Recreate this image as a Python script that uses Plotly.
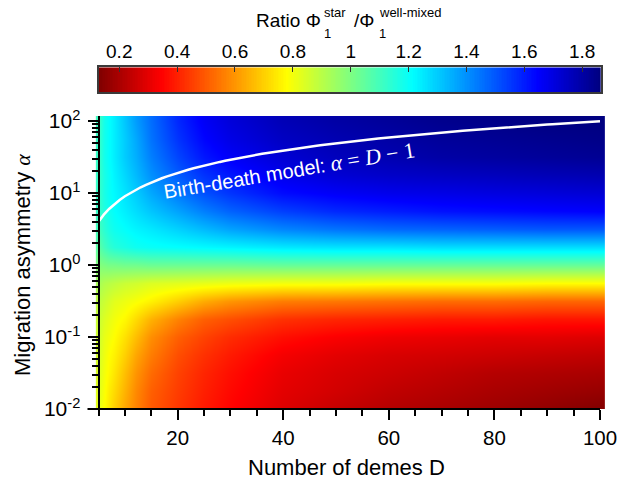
import numpy as np
import plotly.graph_objects as go

# ---- data ---------------------------------------------------------------
# number of demes D (grid columns)
demes = [5, 6, 7, 8, 10, 12, 15, 20, 25, 30, 40, 50, 60, 70, 80, 90, 100]
# migration asymmetry alpha, as powers of ten (grid rows, bottom to top)
alpha_exp = [-2.0, -1.75, -1.5, -1.25, -1.0, -0.75, -0.5, -0.25, 0.0,
             0.25, 0.5, 0.75, 1.0, 1.25, 1.5, 1.75, 2.0]
alpha = [10 ** e for e in alpha_exp]

# ratio Phi_1^star / Phi_1^well-mixed, one row per alpha value
ratio = [
    [0.82, 0.78, 0.74, 0.70, 0.63, 0.57, 0.50, 0.44, 0.39, 0.35, 0.29, 0.25, 0.22, 0.20, 0.18, 0.16, 0.135],
    [0.83, 0.79, 0.75, 0.72, 0.65, 0.58, 0.51, 0.45, 0.40, 0.36, 0.30, 0.27, 0.24, 0.22, 0.20, 0.185, 0.17],
    [0.84, 0.80, 0.77, 0.74, 0.67, 0.60, 0.53, 0.46, 0.41, 0.37, 0.31, 0.28, 0.26, 0.24, 0.22, 0.21, 0.20],
    [0.85, 0.81, 0.78, 0.76, 0.70, 0.63, 0.56, 0.48, 0.43, 0.39, 0.33, 0.30, 0.28, 0.27, 0.26, 0.25, 0.24],
    [0.86, 0.82, 0.80, 0.78, 0.73, 0.67, 0.59, 0.51, 0.46, 0.42, 0.37, 0.34, 0.32, 0.31, 0.30, 0.30, 0.29],
    [0.87, 0.84, 0.82, 0.80, 0.77, 0.72, 0.65, 0.57, 0.51, 0.48, 0.43, 0.41, 0.40, 0.39, 0.39, 0.38, 0.38],
    [0.89, 0.87, 0.85, 0.83, 0.81, 0.79, 0.76, 0.70, 0.64, 0.60, 0.56, 0.55, 0.54, 0.53, 0.53, 0.52, 0.52],
    [0.93, 0.91, 0.90, 0.89, 0.87, 0.86, 0.84, 0.83, 0.82, 0.81, 0.80, 0.80, 0.79, 0.79, 0.79, 0.78, 0.78],
    [0.99, 1.00, 1.01, 1.01, 1.02, 1.02, 1.03, 1.03, 1.03, 1.03, 1.04, 1.04, 1.04, 1.04, 1.04, 1.04, 1.04],
    [1.06, 1.10, 1.13, 1.15, 1.17, 1.19, 1.20, 1.21, 1.22, 1.23, 1.25, 1.26, 1.26, 1.27, 1.27, 1.27, 1.27],
    [1.10, 1.14, 1.17, 1.19, 1.21, 1.23, 1.25, 1.29, 1.33, 1.37, 1.42, 1.45, 1.47, 1.48, 1.49, 1.50, 1.50],
    [1.12, 1.16, 1.19, 1.21, 1.24, 1.27, 1.31, 1.37, 1.43, 1.48, 1.54, 1.58, 1.60, 1.62, 1.63, 1.64, 1.65],
    [1.12, 1.17, 1.20, 1.22, 1.26, 1.30, 1.36, 1.44, 1.51, 1.56, 1.63, 1.66, 1.68, 1.69, 1.70, 1.71, 1.72],
    [1.12, 1.17, 1.20, 1.23, 1.28, 1.33, 1.40, 1.49, 1.56, 1.61, 1.68, 1.72, 1.74, 1.75, 1.76, 1.77, 1.78],
    [1.12, 1.18, 1.21, 1.24, 1.30, 1.35, 1.43, 1.53, 1.61, 1.66, 1.72, 1.76, 1.78, 1.80, 1.81, 1.82, 1.83],
    [1.12, 1.18, 1.21, 1.24, 1.30, 1.36, 1.45, 1.56, 1.64, 1.69, 1.75, 1.78, 1.80, 1.82, 1.83, 1.84, 1.85],
    [1.11, 1.18, 1.21, 1.24, 1.31, 1.38, 1.46, 1.58, 1.66, 1.71, 1.77, 1.80, 1.82, 1.84, 1.85, 1.86, 1.864],
]

# colour range of the ratio
z_min, z_max = 0.13, 1.864
cbar_ticks = [0.2, 0.4, 0.6, 0.8, 1.0, 1.2, 1.4, 1.6, 1.8]
cbar_labels = ["0.2", "0.4", "0.6", "0.8", "1", "1.2", "1.4", "1.6", "1.8"]

# x-axis and y-axis ticks
x_ticks = [20, 40, 60, 80, 100]
y_ticks = [0.01, 0.1, 1, 10, 100]
y_labels = ["10<sup>-2</sup>", "10<sup>-1</sup>", "10<sup>0</sup>",
            "10<sup>1</sup>", "10<sup>2</sup>"]

# birth-death model: alpha = D - 1
bd_demes = list(range(5, 101))
bd_alpha = [d - 1 for d in bd_demes]

# ---- style --------------------------------------------------------------
W, H = 618, 483
FONT = "Liberation Sans, Arial, sans-serif"
SERIF = "Liberation Serif"

# jet colour map, running from dark red (low) to dark blue (high)
jet_r = [
    [0.0, "rgb(128,0,0)"],
    [0.125, "rgb(255,0,0)"],
    [0.375, "rgb(255,255,0)"],
    [0.625, "rgb(0,255,255)"],
    [0.875, "rgb(0,0,255)"],
    [1.0, "rgb(0,0,128)"],
]


def px_x(p):
    return p / W


def px_y(p):
    return 1 - p / H


fig = go.Figure()

# main map
fig.add_trace(go.Heatmap(
    x=demes, y=alpha, z=ratio,
    zmin=z_min, zmax=z_max, colorscale=jet_r, zsmooth="best",
    showscale=False, hoverinfo="skip",
    xaxis="x", yaxis="y",
))

# birth-death curve
fig.add_trace(go.Scatter(
    x=bd_demes, y=bd_alpha, mode="lines",
    line=dict(color="white", width=2.5),
    hoverinfo="skip", showlegend=False,
    xaxis="x", yaxis="y",
))

# colour bar drawn as its own strip
bar_vals = np.linspace(z_min, z_max, 300)
fig.add_trace(go.Heatmap(
    x=bar_vals, y=[0.5], z=[bar_vals],
    zmin=z_min, zmax=z_max, colorscale=jet_r,
    showscale=False, hoverinfo="skip",
    xaxis="x2", yaxis="y2",
))

x_lo, x_hi = 4.147, 100.947
fig.update_layout(
    width=W, height=H,
    margin=dict(l=0, r=0, t=0, b=0),
    template="none",
    paper_bgcolor="white", plot_bgcolor="white",
    showlegend=False,
    font=dict(family=FONT, color="black"),
    xaxis=dict(
        domain=[px_x(94), px_x(605)],
        range=[x_lo, x_hi], anchor="y",
        showgrid=False, zeroline=False, showline=False,
        tickmode="array", tickvals=x_ticks,
        ticks="outside", ticklen=10, tickwidth=2, tickcolor="black",
        minor=dict(dtick=5, tick0=0, ticks="outside", ticklen=6,
                   tickwidth=1.5, tickcolor="black", showgrid=False),
        tickfont=dict(size=20.5, family=FONT),
        automargin=False,
    ),
    yaxis=dict(
        domain=[px_y(409), px_y(116)],
        type="log", range=[-2, 2.069],
        anchor="free", position=px_x(98.5),
        showgrid=False, zeroline=False,
        showline=True, linewidth=2, linecolor="black",
        tickmode="array", tickvals=y_ticks, ticktext=y_labels,
        ticks="outside", ticklen=10, tickwidth=2, tickcolor="black",
        minor=dict(ticks="outside", ticklen=6, tickwidth=1.5,
                   tickcolor="black", dtick="D1", showgrid=False),
        tickfont=dict(size=21, family=FONT),
        ticklabelstandoff=3,
        automargin=False,
    ),
    xaxis2=dict(
        domain=[px_x(99), px_x(600.7)],
        range=[z_min, z_max], anchor="y2", side="top",
        showgrid=False, zeroline=False,
        showline=True, mirror=True, linewidth=1.5, linecolor="#3a3a3a",
        tickmode="array", tickvals=cbar_ticks, ticktext=cbar_labels,
        ticks="inside", ticklen=5, tickwidth=1, tickcolor="#333333",
        tickfont=dict(size=19, family=FONT),
        automargin=False,
    ),
    yaxis2=dict(
        domain=[px_y(92.3), px_y(67.3)],
        range=[0, 1], anchor="x2",
        showgrid=False, zeroline=False, showticklabels=False,
        showline=True, mirror=True, linewidth=1.5, linecolor="#3a3a3a",
        ticks="", automargin=False,
    ),
)

# x-axis line (runs slightly past the left edge of the map)
fig.add_shape(type="line", xref="paper", yref="paper",
              x0=px_x(87.5), x1=px_x(600), y0=px_y(409), y1=px_y(409),
              line=dict(color="black", width=2), layer="above")


def label(text, x, y, size, xanchor="center", **kw):
    return dict(text=text, x=px_x(x), y=px_y(y), xref="paper", yref="paper",
                xanchor=xanchor, yanchor="middle", showarrow=False,
                borderpad=0, font=dict(size=size, family=FONT,
                                       color=kw.pop("color", "black")), **kw)


annotations = [
    # colour bar title, with stacked sub/superscripts
    label("Ratio Φ", 322, 20, 19, xanchor="right"),
    label("star", 323, 13, 13, xanchor="left"),
    label("1", 323, 33, 13, xanchor="left"),
    label("/Φ", 353, 20, 19, xanchor="left"),
    label("well-mixed", 378, 13, 13, xanchor="left"),
    label("1", 378, 33, 13, xanchor="left"),
    # axis titles
    label("Number of demes D", 346, 467, 22),
    label("Migration asymmetry <span style=\"font-family:Liberation Serif\"><i>α</i></span>",
          22, 265, 22, textangle=-90),
    # curve label
    label("Birth-death model: <span style=\"font-family:Liberation Serif;font-size:22px\">"
          "<i>α</i> = <i>D</i> − 1</span>",
          289, 170, 20, textangle=-9.5, color="white"),
]
fig.update_layout(annotations=annotations)

fig.write_html("out.html")
